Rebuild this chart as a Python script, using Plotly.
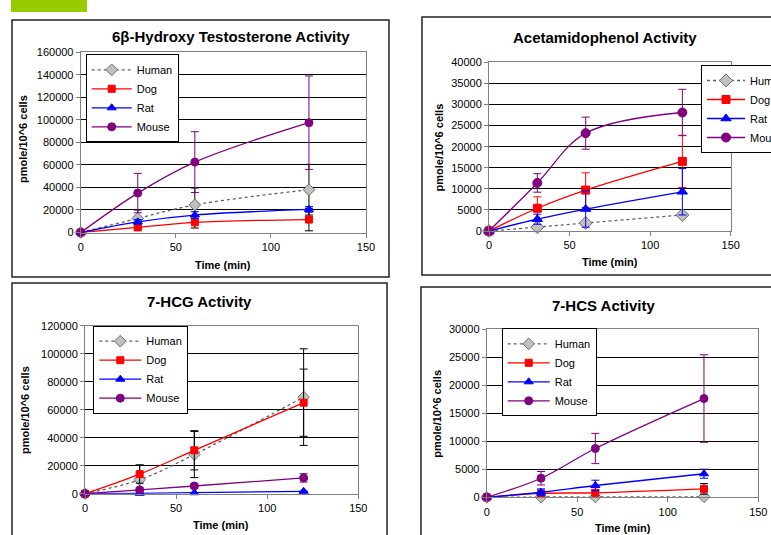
import plotly.graph_objects as go

W, H = 771, 535
FONT = "Liberation Sans, Arial, sans-serif"

time_min = [0, 30, 60, 120]
species = ["Human", "Dog", "Rat", "Mouse"]

# 6β-Hydroxy Testosterone Activity
hyd_human = [0, 12500, 24500, 38000]
hyd_human_err = [0, 7500, 15000, 22500]
hyd_dog = [0, 4500, 9000, 11500]
hyd_dog_err = [0, 2500, 5000, 10000]
hyd_rat = [0, 9500, 15500, 20500]
hyd_rat_err = [0, 2000, 3000, 2500]
hyd_mouse = [0, 35000, 62500, 97500]
hyd_mouse_err = [0, 17500, 27000, 41500]

# Acetamidophenol Activity
ace_human = [0, 900, 1900, 3800]
ace_human_err = [0, 0, 0, 0]
ace_dog = [0, 5400, 9700, 16500]
ace_dog_err = [0, 2700, 4100, 6200]
ace_rat = [0, 2800, 5200, 9300]
ace_rat_err = [0, 1200, 4300, 5500]
ace_mouse = [0, 11400, 23200, 28100]
ace_mouse_err = [0, 2200, 3800, 5500]

# 7-HCG Activity
hcg_human = [0, 10000, 28000, 69000]
hcg_human_err = [0, 10500, 16500, 34500]
hcg_dog = [0, 14000, 31000, 65000]
hcg_dog_err = [0, 6500, 14000, 24000]
hcg_rat = [0, 300, 700, 1700]
hcg_rat_err = [0, 0, 0, 0]
hcg_mouse = [0, 2700, 5500, 11300]
hcg_mouse_err = [0, 1500, 1500, 3000]

# 7-HCS Activity
hcs_human = [0, 50, 50, 100]
hcs_human_err = [0, 0, 0, 0]
hcs_dog = [0, 700, 800, 1500]
hcs_dog_err = [0, 500, 500, 950]
hcs_rat = [0, 900, 2100, 4200]
hcs_rat_err = [0, 600, 950, 800]
hcs_mouse = [0, 3400, 8700, 17600]
hcs_mouse_err = [0, 1200, 2700, 7800]

titles = ["6β-Hydroxy Testosterone Activity", "Acetamidophenol Activity",
          "7-HCG Activity", "7-HCS Activity"]
y_title = "pmole/10^6 cells"
x_title = "Time (min)"
x_ticks = [0, 50, 100, 150]

def fx(px):
    return px / W

def fy(py):
    return 1 - py / H

# panel geometry in pixels: plot area (left, right, top, bottom), y max, dtick
panels = [
    dict(l=80.7, r=366.0, t=52.3, b=232.5, ymax=160000, dt=20000,
         data=[(hyd_human, hyd_human_err), (hyd_dog, hyd_dog_err), (hyd_rat, hyd_rat_err), (hyd_mouse, hyd_mouse_err)],
         errc=["#000000", "#000000", "#0000FF", "#800080"],
         title=(231, 37), ytit=(23, 139), xtit=(223, 265), leg=(85.7, 54.3), msize=7, iw=40),
    dict(l=489.0, r=730.7, t=62.3, b=231.0, ymax=40000, dt=5000,
         data=[(ace_human, ace_human_err), (ace_dog, ace_dog_err), (ace_rat, ace_rat_err), (ace_mouse, ace_mouse_err)],
         errc=["#808080", "#FF0000", "#0000FF", "#800080"],
         title=(604.7, 37.3), ytit=(438, 147.5), xtit=(610, 261.7), leg=(701, 65), msize=8, iw=38),
    dict(l=85.0, r=358.3, t=325.7, b=493.7, ymax=120000, dt=20000,
         data=[(hcg_human, hcg_human_err), (hcg_dog, hcg_dog_err), (hcg_rat, hcg_rat_err), (hcg_mouse, hcg_mouse_err)],
         errc=["#000000", "#000000", "#0000FF", "#800080"],
         title=(199.5, 301), ytit=(25, 410), xtit=(221, 525), leg=(93.3, 325.7), msize=7, iw=42),
    dict(l=486.7, r=758.3, t=329.0, b=497.3, ymax=30000, dt=5000,
         data=[(hcs_human, hcs_human_err), (hcs_dog, hcs_dog_err), (hcs_rat, hcs_rat_err), (hcs_mouse, hcs_mouse_err)],
         errc=["#000000", "#000000", "#0000FF", "#800080"],
         title=(603.8, 305.7), ytit=(436.7, 414), xtit=(622.8, 528.3), leg=(501.7, 328.3), msize=7, iw=42),
]

styles = [
    dict(color="#606060", dash="dot", symbol="diamond", mcolor="#C0C0C0", mline="#707070", dsz=2),
    dict(color="#FF0000", dash="solid", symbol="square", mcolor="#FF0000", mline="#FF0000", dsz=0),
    dict(color="#0000FF", dash="solid", symbol="triangle-up", mcolor="#0000FF", mline="#0000FF", dsz=1),
    dict(color="#800080", dash="solid", symbol="circle", mcolor="#800080", mline="#800080", dsz=1),
]

fig = go.Figure()
layout = dict(
    width=W, height=H,
    margin=dict(l=0, r=0, t=0, b=0, autoexpand=False),
    paper_bgcolor="white", plot_bgcolor="white",
    font=dict(family=FONT, size=11, color="black"),
    showlegend=True,
)
annotations = []
shapes = []

# chart boxes
boxes = [(12, 389, 20, 277), (422, 800, 17, 275), (12, 387, 283, 560), (421, 800, 287, 560)]
for (x0, x1, y0, y1) in boxes:
    shapes.append(dict(type="rect", xref="paper", yref="paper",
                       x0=fx(x0), x1=fx(x1), y0=fy(y1), y1=fy(y0),
                       line=dict(color="#222222", width=1.5), fillcolor="rgba(0,0,0,0)", layer="below"))
# green accent bar
shapes.append(dict(type="rect", xref="paper", yref="paper", x0=fx(11), x1=fx(87), y0=fy(12), y1=fy(-5),
                   line=dict(width=0), fillcolor="#99CC00"))

for i, p in enumerate(panels):
    n = "" if i == 0 else str(i + 1)
    xa, ya = "x" + n, "y" + n
    leg = "legend" + n
    for s, (vals, errs), st, ec in zip(species, p["data"], styles, p["errc"]):
        fig.add_trace(go.Scatter(
            x=time_min, y=vals, name=s, mode="lines+markers",
            xaxis=xa, yaxis=ya, legend=leg, cliponaxis=False,
            line=dict(color=st["color"], width=1.3, dash=st["dash"], shape="spline", smoothing=1.0),
            marker=dict(symbol=st["symbol"], size=p["msize"] + st["dsz"], color=st["mcolor"],
                        line=dict(color=st["mline"], width=1)),
            error_y=dict(type="data", array=errs, visible=True, color=ec, thickness=1, width=4),
        ))
    axcommon = dict(showline=True, linecolor="#808080", linewidth=1, mirror=True,
                    ticks="outside", ticklen=4, tickcolor="#808080",
                    tickfont=dict(family=FONT, size=11, color="black"))
    layout["xaxis" + n] = dict(domain=[fx(p["l"]), fx(p["r"])], anchor=ya, range=[0, 150],
                               tickvals=x_ticks, showgrid=False, zeroline=False, **axcommon)
    layout["yaxis" + n] = dict(domain=[fy(p["b"]), fy(p["t"])], anchor=xa, range=[0, p["ymax"]],
                               dtick=p["dt"], tick0=0, tickformat="d", showgrid=True,
                               gridcolor="#000000", gridwidth=1, zeroline=False, **axcommon)
    layout[leg] = dict(x=fx(p["leg"][0]), y=fy(p["leg"][1]), xanchor="left", yanchor="top",
                       bgcolor="white", bordercolor="#000000", borderwidth=1, itemwidth=p["iw"],
                       font=dict(family=FONT, size=11, color="black"), tracegroupgap=0)
    annotations.append(dict(text="<b>%s</b>" % titles[i], xref="paper", yref="paper",
                            x=fx(p["title"][0]), y=fy(p["title"][1]), xanchor="center", yanchor="middle",
                            showarrow=False, font=dict(family=FONT, size=15, color="black")))
    annotations.append(dict(text="<b>%s</b>" % y_title, xref="paper", yref="paper", textangle=-90,
                            x=fx(p["ytit"][0]), y=fy(p["ytit"][1]), xanchor="center", yanchor="middle",
                            showarrow=False, font=dict(family=FONT, size=11, color="black")))
    annotations.append(dict(text="<b>%s</b>" % x_title, xref="paper", yref="paper",
                            x=fx(p["xtit"][0]), y=fy(p["xtit"][1]), xanchor="center", yanchor="middle",
                            showarrow=False, font=dict(family=FONT, size=11, color="black")))

layout["annotations"] = annotations
layout["shapes"] = shapes
fig.update_layout(**layout)
fig.write_html("out.html", config={"displayModeBar": False},
               post_script="document.body.style.margin='0';document.body.style.overflow='hidden';")
